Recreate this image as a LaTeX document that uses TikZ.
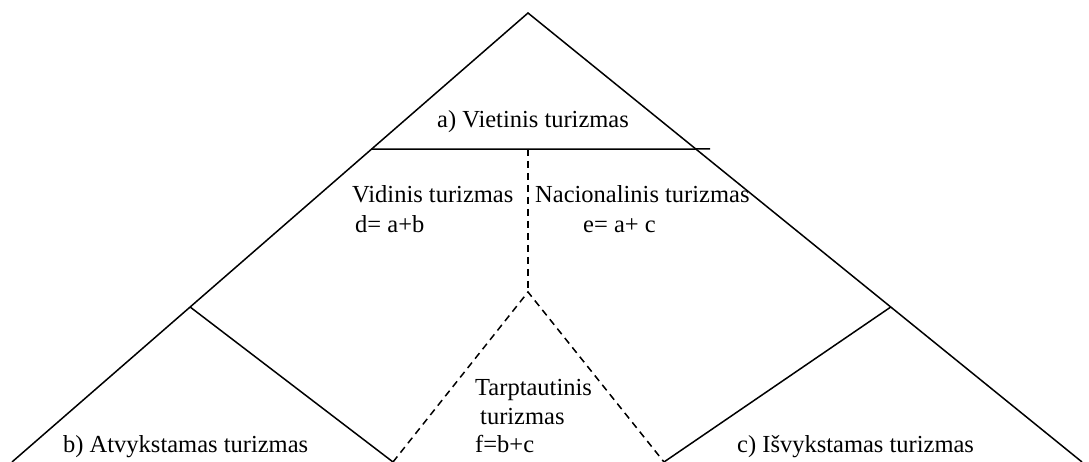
\documentclass[tikz,border=0pt]{standalone}
\usepackage{fontspec}
\setmainfont{Liberation Serif}
\usetikzlibrary{calc}
\begin{document}
\begin{tikzpicture}[x=1pt,y=-1pt,
  solidline/.style={line width=1.5pt, line join=miter},
  dashline/.style={line width=1.5pt, dash pattern=on 7pt off 5pt},
  lbl/.style={inner sep=0pt, anchor=base west, font=\fontsize{24.5}{29}\selectfont}]
\useasboundingbox (0,0) rectangle (1089,462);
% vertices
\coordinate (apex) at (528,13);
\coordinate (bl) at (12,462);
\coordinate (br) at (1082,462);
\coordinate (hl) at ($(apex)!0.303!(bl)$);
\coordinate (hr) at (710,149);
\coordinate (hm) at (528,149);
\coordinate (jl) at ($(apex)!0.6548!(bl)$);
\coordinate (jr) at ($(apex)!0.6548!(br)$);
\coordinate (mid) at (528,292);
\coordinate (bml) at (393,462);
\coordinate (bmr) at (664,462);
% outer triangle
\draw[solidline] (bl) -- (apex) -- (br);
\draw[solidline] (hl) -- (hr);
\draw[solidline] (jl) -- (bml);
\draw[solidline] (jr) -- (bmr);
% dashed
\draw[dashline] (hm) -- (mid);
\draw[dashline] (bml) -- (mid) -- (bmr);
% labels
\node[lbl, anchor=base] (a) at (533,128) {a) Vietinis turizmas};
\node[lbl] (vid) at (352,203) {Vidinis turizmas};
\node[lbl] (d) at (355,233) {d= a+b};
\node[lbl] (nac) at (535,203) {Nacionalinis turizmas};
\node[lbl] (e) at (583,233) {e= a+ c};
\node[lbl] (t1) at (475,395) {Tarptautinis};
\node[lbl] (t2) at (480,424) {turizmas};
\node[lbl] (f) at (475,452) {f=b+c};
\node[lbl] (b) at (63,452) {b) Atvykstamas turizmas};
\node[lbl] (c) at (737,452) {c) Išvykstamas turizmas};
\end{tikzpicture}
\end{document}
